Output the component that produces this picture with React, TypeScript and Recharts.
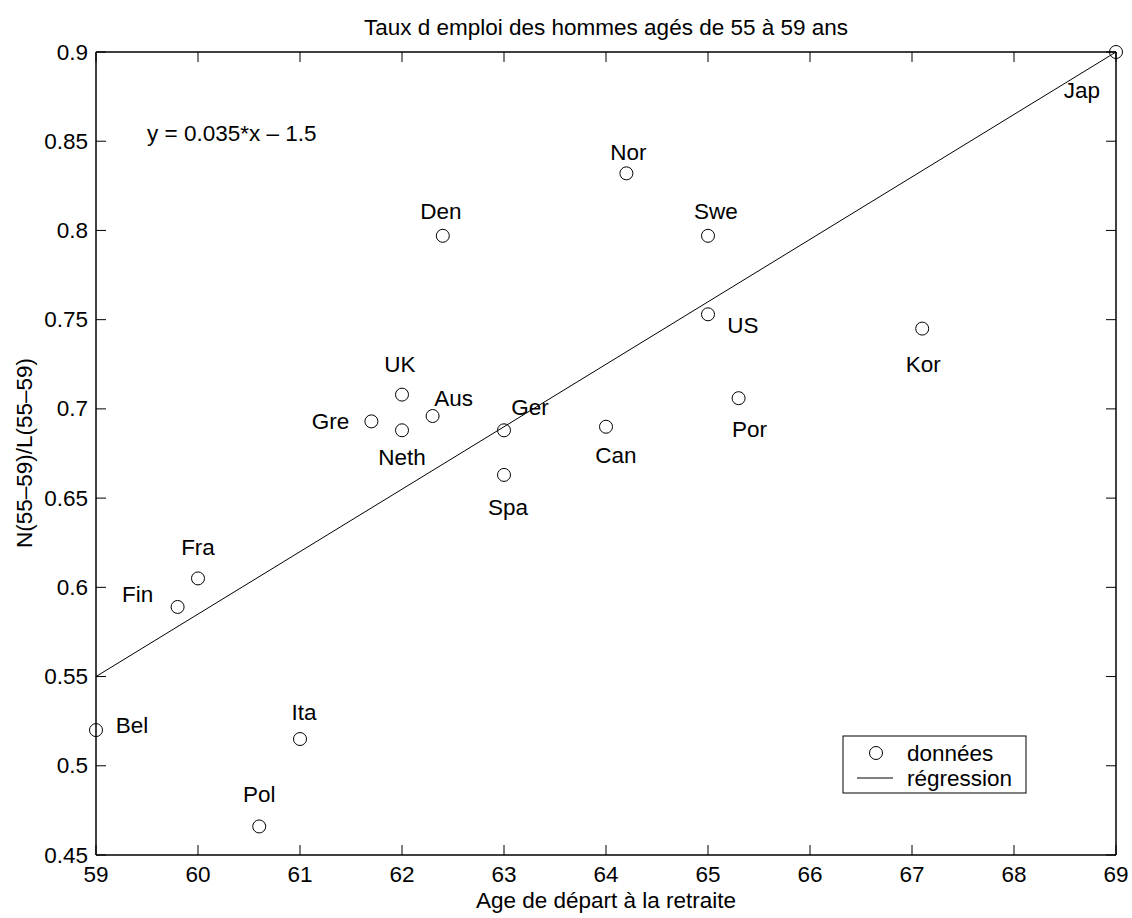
import React from "react";
import {
  ComposedChart,
  Scatter,
  Line,
  XAxis,
  YAxis,
  Customized,
} from "recharts";

// data
const countries = ["Bel", "Fin", "Fra", "Pol", "Ita", "Gre", "UK", "Neth", "Aus", "Den", "Ger", "Spa", "Can", "Nor", "Swe", "US", "Por", "Kor", "Jap"];
const retirementAge = [59, 59.8, 60, 60.6, 61, 61.7, 62, 62, 62.3, 62.4, 63, 63, 64, 64.2, 65, 65, 65.3, 67.1, 69];
const employmentRate = [0.52, 0.589, 0.605, 0.466, 0.515, 0.693, 0.708, 0.688, 0.696, 0.797, 0.688, 0.663, 0.69, 0.832, 0.797, 0.753, 0.706, 0.745, 0.9];

const regressionX = [59, 69];
const regressionY = [0.55, 0.9];

const xTicks = [59, 60, 61, 62, 63, 64, 65, 66, 67, 68, 69];
const yTicks = [0.45, 0.5, 0.55, 0.6, 0.65, 0.7, 0.75, 0.8, 0.85, 0.9];

// label placement relative to each marker (pixels)
const labelOffsets: Record<string, [number, number]> = {
  Bel: [36, -5],
  Fin: [-40, -12],
  Fra: [0, -31],
  Pol: [0, -32],
  Ita: [4, -27],
  Gre: [-41, 0],
  UK: [-2, -30],
  Neth: [0, 27],
  Aus: [21, -18],
  Den: [-2, -24],
  Ger: [26, -23],
  Spa: [4, 33],
  Can: [10, 29],
  Nor: [2, -21],
  Swe: [8, -24],
  US: [35, 11],
  Por: [11, 31],
  Kor: [1, 36],
  Jap: [-34, 38],
};

const points = countries.map((name, i) => ({
  name,
  x: retirementAge[i],
  y: employmentRate[i],
}));
const regression = regressionX.map((x, i) => ({ x, y: regressionY[i] }));

if (typeof document !== "undefined") document.body.style.margin = "0";

const FONT = "'Liberation Sans', Arial, Helvetica, sans-serif";
const FS = 22.5;
const TICK = 10;

const W = 1132;
const H = 918;
// plot box: x 96..1116, y 52..855 (axes take 1px each)
const M = { top: 51, left: 95, right: 15, bottom: 62 };
const AX = { stroke: "#000", strokeWidth: 1.5 };

const BottomTick = (p: any) => (
  <g>
    <line x1={p.x} y1={p.y} x2={p.x} y2={p.y - TICK} stroke="#000" strokeWidth={1} />
    <text x={p.x} y={p.y + 19} textAnchor="middle" dominantBaseline="central" fontFamily={FONT} fontSize={FS} fill="#000">
      {p.payload.value}
    </text>
  </g>
);

const TopTick = (p: any) => (
  <line x1={p.x} y1={p.y} x2={p.x} y2={p.y + TICK} stroke="#000" strokeWidth={1} />
);

const LeftTick = (p: any) => (
  <g>
    <line x1={p.x} y1={p.y} x2={p.x + TICK} y2={p.y} stroke="#000" strokeWidth={1} />
    <text x={p.x - 8} y={p.y} textAnchor="end" dominantBaseline="central" fontFamily={FONT} fontSize={FS} fill="#000">
      {p.payload.value}
    </text>
  </g>
);

const RightTick = (p: any) => (
  <line x1={p.x} y1={p.y} x2={p.x - TICK} y2={p.y} stroke="#000" strokeWidth={1} />
);

const Marker = (p: any) => {
  const name = p.payload?.name;
  const [dx, dy] = labelOffsets[name] || [0, 0];
  return (
    <g>
      <circle cx={p.cx} cy={p.cy} r={6.5} fill="none" stroke="#000" strokeWidth={1} />
      <text x={p.cx + dx} y={p.cy + dy} textAnchor="middle" dominantBaseline="central" fontFamily={FONT} fontSize={FS} fill="#000">
        {name}
      </text>
    </g>
  );
};

const plotCx = 606;
const plotCy = 453;

const Annotations = () => (
  <g fontFamily={FONT} fontSize={FS} fill="#000">
    <text x={plotCx} y={35} textAnchor="middle">
      Taux d emploi des hommes agés de 55 à 59 ans
    </text>
    <text x={plotCx} y={908} textAnchor="middle">
      Age de départ à la retraite
    </text>
    <text x={24} y={plotCy} textAnchor="middle" dominantBaseline="central" transform={`rotate(-90 24 ${plotCy})`}>
      N(55–59)/L(55–59)
    </text>
    <text x={147} y={133} dominantBaseline="central">
      y = 0.035*x – 1.5
    </text>
    <rect x={843} y={736} width={183} height={57} fill="#fff" stroke="#000" strokeWidth={1} />
    <circle cx={876} cy={753} r={6.5} fill="none" stroke="#000" strokeWidth={1} />
    <text x={907} y={753} dominantBaseline="central">données</text>
    <line x1={857} y1={778} x2={893} y2={778} stroke="#000" strokeWidth={1} />
    <text x={907} y={778} dominantBaseline="central">régression</text>
  </g>
);

export default function App() {
  return (
    <div style={{ width: W, height: H, background: "#fff" }}>
      <ComposedChart width={W} height={H} margin={M}>
        <XAxis
          xAxisId="b"
          dataKey="x"
          type="number"
          domain={[59, 69]}
          ticks={xTicks}
          interval={0}
          height={1}
          tickSize={0}
          tickMargin={0}
          tickLine={false}
          tick={<BottomTick />}
          axisLine={AX}
        />
        <XAxis
          xAxisId="t"
          orientation="top"
          dataKey="x"
          type="number"
          domain={[59, 69]}
          ticks={xTicks}
          interval={0}
          height={1}
          tickSize={0}
          tickMargin={0}
          tickLine={false}
          tick={<TopTick />}
          axisLine={AX}
        />
        <YAxis
          yAxisId="l"
          dataKey="y"
          type="number"
          domain={[0.45, 0.9]}
          ticks={yTicks}
          interval={0}
          width={1}
          tickSize={0}
          tickMargin={0}
          tickLine={false}
          tick={<LeftTick />}
          axisLine={AX}
        />
        <YAxis
          yAxisId="r"
          orientation="right"
          dataKey="y"
          type="number"
          domain={[0.45, 0.9]}
          ticks={yTicks}
          interval={0}
          width={1}
          tickSize={0}
          tickMargin={0}
          tickLine={false}
          tick={<RightTick />}
          axisLine={AX}
        />
        <Line
          xAxisId="t"
          yAxisId="r"
          data={regression}
          dataKey="y"
          type="linear"
          stroke="#000"
          strokeWidth={1}
          dot={false}
          activeDot={false}
          isAnimationActive={false}
        />
        <Scatter
          xAxisId="b"
          yAxisId="l"
          data={points}
          dataKey="y"
          shape={<Marker />}
          isAnimationActive={false}
        />
        <Customized component={<Annotations />} />
      </ComposedChart>
    </div>
  );
}
